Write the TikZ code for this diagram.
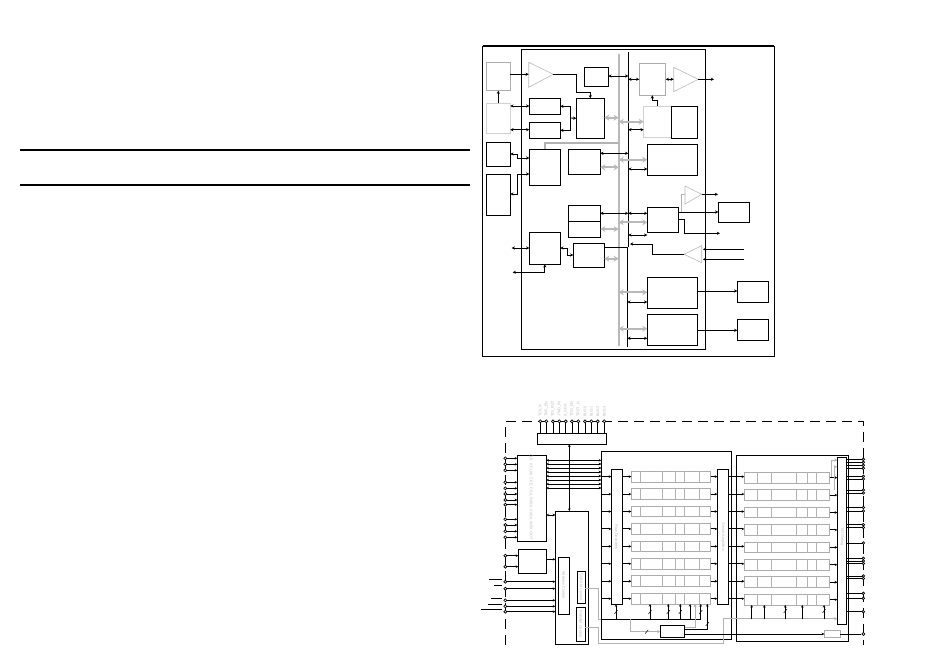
\documentclass[tikz,border=0pt]{standalone}
\usepackage{fontspec}
\setmainfont{Liberation Sans}
\usetikzlibrary{arrows.meta,calc}
\tikzset{
  bk/.style={draw=black,line width=0.9pt,inner sep=0pt,outer sep=0pt,fill=none},
  gb/.style={bk,draw=gray!65},
  lg/.style={bk,draw=gray!35},
  wire/.style={line width=0.9pt,black,>={Stealth[length=3.2pt,width=3.2pt]}},
  wlow/.style={line width=0.9pt,black,>={Stealth[length=2.6pt,width=2.6pt]}},
  gwire/.style={line width=0.9pt,gray!60,>={Stealth[length=3.2pt,width=3.2pt]}},
  gbi/.style={line width=1.7pt,gray!55,{Stealth[length=5pt,width=6pt]}-{Stealth[length=5pt,width=6pt]}},
  tri/.style={draw=gray!55,line width=0.6pt},
  rule/.style={line width=1.4pt,black},
  pinc/.style={circle,draw=black,fill=white,line width=0.7pt,inner sep=0pt,minimum size=3pt},
  tiny/.style={font=\fontsize{3.8}{4}\selectfont,text=gray!55,inner sep=0pt},
  vtiny/.style={tiny,rotate=-90},
  divl/.style={line width=0.9pt,gray!60}
}
\newcommand\bx[6][bk]{%
  \pgfmathsetmacro\bw{#5-#3}\pgfmathsetmacro\bh{#6-#4}%
  \pgfmathsetmacro\cx{(#5+#3)/2}\pgfmathsetmacro\cy{(#6+#4)/2}%
  \node[#1,minimum width=\bw pt,minimum height=\bh pt] (#2) at (\cx,\cy) {};}
% horizontal link between two x-references at a given y
\newcommand\hl[4][wire,<->]{\draw[#1] (#2 |- 0,#4) -- (#3 |- 0,#4);}
\newcommand\tick[2]{\draw[line width=0.5pt] (#1-1.5,#2+1.8) -- (#1+1.5,#2-1.8);}
\newcommand\upa[2]{\draw[wlow,->] (#1,0 |- cb) -- (#1,0 |- #2.south);}
\newcommand\upb[2]{\draw[wlow,->] (#1,0 |- cc) -- (#1,0 |- #2.south);}
\begin{document}
\begin{tikzpicture}[x=1pt,y=-1pt]
\useasboundingbox (0,0) rectangle (950,667);
\fill[white] (0,0) rectangle (950,667);
% rules
\coordinate (ruleL) at (20,150); \coordinate (ruleR) at (470,150);
\draw[rule] (ruleL) -- (ruleR);
\draw[rule] ($(ruleL)+(0,35)$) -- ($(ruleR)+(0,35)$);
% ---------- upper diagram
\bx{outer}{482.8}{46}{774}{356}
\draw[line width=2pt] (outer.north west) -- (outer.north east);
\bx{inner}{521.3}{49.5}{705.7}{349.3}
\coordinate (gbus) at (618.7,100);
\coordinate (bkA) at (628.3,100);
\coordinate (bkB) at (627.3,300);
\draw[line width=2pt,gray!55] (gbus |- 0,54) -- (gbus |- 0,346);
\draw[wire] (bkA |- 0,52.3) -- (bkA |- 0,247);
\draw[wire] (bkB |- 0,247) -- (bkB |- 0,346.7);
% boxes
\bx[gb]{A}{486.3}{62.3}{510.3}{90.7}
\bx[lg]{B}{486.3}{103.3}{510.3}{133}
\bx{C}{486.3}{142.3}{510.3}{166.3}
\bx{D}{486.3}{174.3}{510.3}{215.3}
\bx{E}{584.3}{67.3}{608.3}{86.3}
\bx{F}{529.3}{98.3}{560.3}{114.3}
\bx{G}{529.3}{122.3}{560.3}{138.3}
\bx{H}{576.3}{98.3}{604.3}{138.3}
\bx{I}{529.3}{149.3}{560.3}{185.3}
\bx{J}{568.3}{149.3}{600.3}{174.3}
\bx[gb]{M}{639.3}{63.7}{665.7}{95.3}
\bx[lg]{K}{643.7}{106.3}{671}{137.3}
\bx{N}{671.3}{106.3}{697.7}{138.3}
\bx{L}{647.3}{144.3}{697.7}{175.3}
\bx{O}{647.3}{207.3}{678.3}{232.3}
\bx{P}{718.3}{202.3}{749.3}{222.3}
\bx{Q}{568.3}{205.3}{600.3}{221.3}
\bx{Qb}{568.3}{221.3}{600.3}{237.3}
\bx{R}{529.3}{232.3}{560.3}{264.3}
\bx{S}{573.3}{243.3}{604.3}{267.3}
\bx{T}{647.3}{277.3}{697.7}{308.3}
\bx{U}{647.3}{314.3}{697.7}{345.3}
\bx{V}{737.3}{281.3}{768.7}{302.3}
\bx{W}{737.3}{319.3}{768.7}{340.3}
% triangles
\draw[tri] (528.7,62.3) -- (553.3,74.3) coordinate (t1) -- (528.7,87.3) -- cycle;
\draw[tri] (673.7,67.3) -- (698.3,79.3) coordinate (t2) -- (673.7,91.7) -- cycle;
\draw[tri] (685,186) -- (701.7,194.3) coordinate (t3) -- (685,204) -- cycle;
\draw[tri] (701.7,245.7) -- (684,254.3) coordinate (t4) -- (701.7,262.7) -- cycle;
% connections, upper
\draw[gwire,line width=1.6pt] (I.north |- 0,149.3) |- (gbus |- 0,143);
\hl[wire,->]{A.east}{528.7,0}{74.3}
\draw[wire,->] (B.north) -- (A.south);
\draw[wire,->] (t1) -| (576.7,92.3) -| (H.north |- 0,98.3);
\hl{E.east}{bkA}{76}
\hl{B.east}{F.west}{106}
\hl{B.east}{G.west}{129.7}
\draw[wire,<-] (F.east) -| (570.7,118);
\draw[wire,<-] (G.east) -| (570.7,118);
\draw[wire,->] (570.7,118) -- (H.west);
\hl[gbi]{H.east}{gbus}{117.7}
\hl[gbi]{gbus}{K.west}{121.7}
\hl{bkA}{K.west}{129.7}
\draw[wire,<->] (C.east |- 0,154) -| (517.7,158) -- (I.west |- 0,158);
\draw[wire,<->] (D.east |- 0,194) -| (517.7,174) -- (I.west |- 0,174);
\hl{J.east}{bkA}{153.3}
\hl[gbi]{J.east}{gbus}{167.3}
\hl[gbi]{gbus}{L.west}{159.7}
\hl{bkA}{L.west}{169}
\hl{bkA}{M.west}{79.3}
\hl{M.east}{673.7,0}{79.3}
\draw[wire,->] (t2) -- (714,79.3);
\draw[wire,->] (K.north |- 0,106.3) |- (652.3,100.3) -- (652.3,95.3);
\draw[wire,->] (t3) -- (718,194.3);
\draw[gwire] (681,212) |- (685,194.3);
\hl[wire,->]{O.east}{P.west}{212}
\draw[wire,->] (O.east |- 0,219.3) -| (684.3,233.3) -- (720,233.3);
\hl{Q.east}{bkA}{213.3}
\hl{bkA}{O.west}{213.3}
\hl[gbi]{Qb.east}{gbus}{229}
\hl[gbi]{gbus}{O.west}{222.3}
\hl{bkA}{O.west}{235}
\draw[wire,<->] (511.7,248) -- (R.west |- 0,248);
\draw[wire,<->] (R.south) |- (512.7,272.3);
\draw[wire,<->] (R.east |- 0,248) -| (567.7,255) -- (S.west |- 0,255);
\draw[wire] (S.east |- 0,247) -- (bkA |- 0,247);
\hl[gbi]{S.east}{gbus}{258.7}
\draw[wire,<-] (630,244) -| (652.3,254.3) -- (t4);
\hl[wire,->]{744.3,0}{703,0}{249.3}
\hl[wire,->]{744.3,0}{703,0}{259.3}
\hl[wire,->]{T.east}{V.west}{291}
\hl[wire,->]{U.east}{W.west}{330.3}
\hl[gbi]{gbus}{T.west}{292.3}
\hl{bkB}{T.west}{302}
\hl[gbi]{gbus}{U.west}{328.7}
\hl{bkB}{U.west}{338.3}
% ---------- lower diagram
\draw[line width=0.9pt,dash pattern=on 10pt off 6pt] (505.3,645) -- (505.3,421.3) -- (863.3,421.3) -- (863.3,645);
\bx{X}{537.3}{433.3}{606.3}{444.3}
\bx{AA}{517.3}{455.3}{546.3}{541.3}
\bx{AB}{518.3}{549.3}{546.3}{573}
\bx{Y}{555.3}{511}{588.3}{644.3}
\bx{Ya}{558.3}{557.3}{569.3}{614.3}
\bx{Yb}{577.3}{571.3}{585.3}{603.3}
\bx{Yc}{576.3}{607.3}{585.3}{641.3}
\bx{BigA}{601.3}{451.3}{731.3}{639.3}
\bx{BigB}{736.3}{455.3}{848.3}{641.3}
\bx{Lm}{611.3}{469.3}{622.7}{604.3}
\bx{Rm}{717.3}{469.3}{728.7}{604.3}
\bx{Om}{837.3}{457.3}{846.7}{624.3}
\bx{BB}{660.3}{625.3}{684.7}{637.3}
\bx[gb]{CC}{824.3}{630.3}{840.3}{637.3}
% top pins
\foreach \x/\t [count=\i] in {540.3/TCK\_N,546.3/TMS\_EN,553/TDI\_RST,559.3/JTAG\_IN,565.7/A\_SDA,572/TDO\_EN,578.3/TRST\_N,585/BUS0,591.3/BUS1,597.7/BUS2,604.3/BUS3}{
  \draw[wire] (\x,421.3) -- (\x,0 |- X.north);
  \node[pinc] (tp\i) at (\x,421.3) {};
  \node[tiny,rotate=90,anchor=west] (tl\i) at (\x,417) {\t};
}
\draw[wlow,<->] (X.south -| 569.3,0) -- (Y.north -| 569.3,0);
% left pins of AA and AB
\foreach \y [count=\i] in {458.3,464.3,470.3,482.3,488.3,494,500,504.7,519.3,525,531.3,537.3}{
  \node[pinc] (lp\i) at (505.3,\y) {};
  \draw[wlow,->] (lp\i) -- (AA.west |- lp\i);
}
\foreach \y [count=\i] in {555.7,566.7}{
  \node[pinc] (ap\i) at (505.3,\y) {};
  \draw[wlow,->] (ap\i) -- (AB.west |- ap\i);
}
\foreach \y [count=\i] in {460.3,464,468,472,476,480,484,488}{
  \draw[wlow,<->] (AA.east |- 0,\y) -- (BigA.west |- 0,\y);
}
\hl[wlow,<->]{AA.east}{Y.west}{515}
\hl[wlow,->]{AB.east}{Y.west}{559.3}
\foreach \y/\s/\l [count=\i] in {581.7/579.3/489.3,588.7/585.3/494,600.3/598.3/491.3,606.3/604.3/488,611.7/609.3/481}{
  \node[pinc] (sp\i) at (505.3,\y) {};
  \draw[wlow,->] (sp\i) -- (Y.west |- sp\i);
  \coordinate (se\i) at (\l,\s);
  \draw[wire] (se\i) -- (502,\s);
}
% register rows
\foreach \i in {1,...,8}{
  \pgfmathsetmacro\ya{471.3+17.43*(\i-1)}
  \pgfmathsetmacro\yb{\ya+10.7}
  \pgfmathsetmacro\ym{\ya+5.35}
  \pgfmathsetmacro\yc{\ya+1}
  \pgfmathsetmacro\yd{\yb+1}
  \pgfmathsetmacro\yn{\yc+5.35}
  \bx[gb]{ra\i}{631.3}{\ya}{710.7}{\yb}
  \bx[gb]{rb\i}{744.3}{\yc}{829.7}{\yd}
  \foreach \d in {640.7,662.7,675.3,684.3,699}{\draw[divl] (\d,\ya) -- (\d,\yb);}
  \foreach \d in {757.3,771.7,796,807.3,816.3}{\draw[divl] (\d,\yc) -- (\d,\yd);}
  \draw[wlow,->] (BigA.west |- 0,\ym) -- (Lm.west |- 0,\ym);
  \draw[wlow,->] (Lm.east |- 0,\ym) -- (ra\i.west |- 0,\ym);
  \draw[wlow,->] (ra\i.east |- 0,\ym) -- (Rm.west |- 0,\ym);
  \draw[wlow,->] (Rm.east |- 0,\ym) -- (rb\i.west |- 0,\ym);
  \draw[wlow,->] (rb\i.east |- 0,\yn) -- (Om.west |- 0,\yn);
}
% right pins
\foreach \y [count=\i] in {459.3,462.3,465.3,468.3,476.3,479,490,493,507.5,511,524.7,527.5,543,558.3,561,563.5,576,578.5,593.3,598.3,611.7}{
  \draw[wlow] (863.3,\y) -- (Om.east |- 0,\y);
  \node[pinc,minimum size=2.6pt] (rp\i) at (863.3,\y) {};
}
\node[pinc] (rpc) at (863.3,634) {};
\draw[wlow] (CC.east |- rpc) -- (rpc);
% gray top right
\draw[gwire,->] (831.7,476.8) |- (Om.west |- 0,460);
\draw[gwire,->] (834,490) |- (Om.west |- 0,466.7);
% control nets
\coordinate (cb) at (616,619.3);
\coordinate (cc) at (751.7,618.7);
\draw[gwire] (Yb.east |- 0,588.3) -| (598.3,619.3) -- (601.3,619.3);
\draw[gwire,->] (Yc.east |- 0,627.7) -| (598.3,643.7) -| (723.3,618.7) -- (Om.west |- 0,618.7);
\draw[wire] (601.3,619.3) -- (700.7,619.3);
\draw[gwire,->] (630.7,619.3) |- (BB.west |- 0,631.7);
\draw[gwire,->] (BB.east |- 0,627.3) -| (695,604);
\draw[wlow,->] (BB.east |- 0,629.3) -| (707.3,604);
\draw[wlow,->] (BB.east |- 0,634) -- (CC.west |- 0,634);
\upa{616}{Lm}
\upa{650}{ra8}
\upa{668.3}{ra8}
\upa{680.3}{ra8}
\upa{690}{ra8}
\upa{700.7}{ra8}
\upb{751.7}{rb8}
\upb{764.3}{rb8}
\upb{785.3}{rb8}
\upb{802.3}{rb8}
\upb{824}{rb8}
\tick{616}{612}
\tick{650}{612}
\tick{668.3}{612}
\tick{680.3}{612}
\tick{700.7}{612}
\tick{707.3}{624}
\tick{646.7}{631.7}
\tick{785.3}{611}
\tick{824}{611}
% tiny labels
\node[vtiny] (tAA) at (531,497) {CLK, RCLK\#, CKE, CS\#, RAS\#, CAS\#, WE\#, ODT};
\node[vtiny] (tYa) at (563.8,585) {Address Control};
\node[vtiny] (tYb) at (581.3,587) {SDRAM Control};
\node[vtiny] (tYc) at (580.7,624) {PSRAM Control};
\node[vtiny] (tLm) at (616.5,537) {Row Decoders};
\node[vtiny] (tRm) at (723,537) {Sense Amplifiers};
\node[vtiny] (tOm) at (842,537) {I/O Gating};
\end{tikzpicture}
\end{document}
